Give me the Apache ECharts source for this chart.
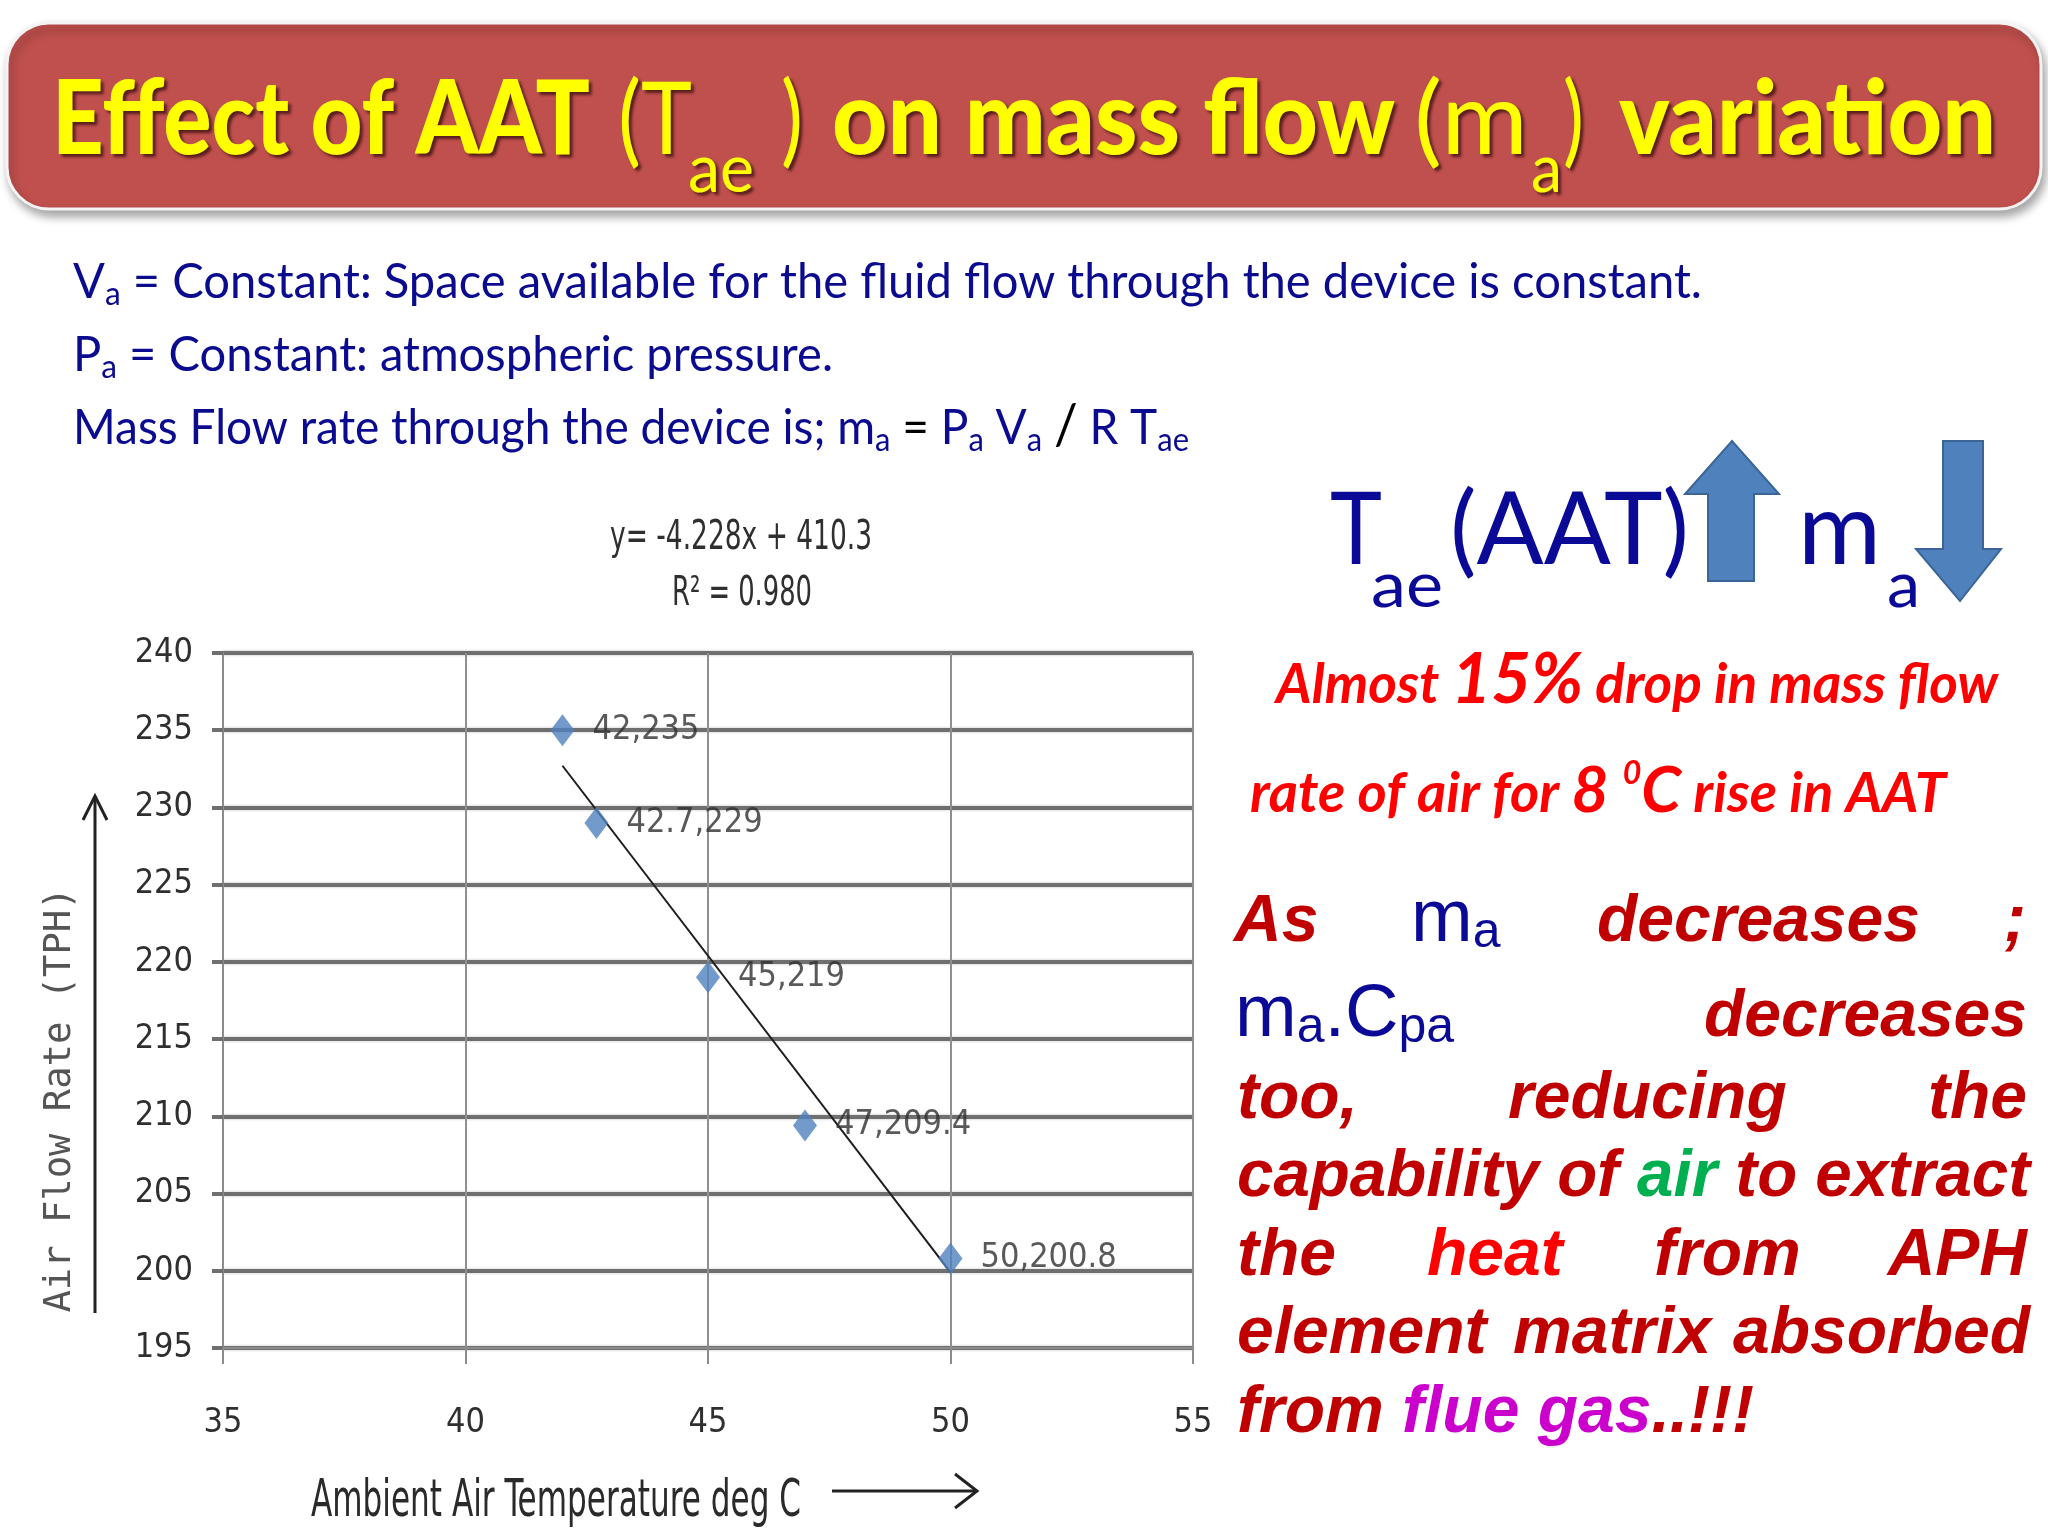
<!DOCTYPE html>
<html><head><meta charset="utf-8">
<script src="https://cdn.jsdelivr.net/npm/echarts@6/dist/echarts.min.js"></script>
<style>html,body{margin:0;padding:0;background:#fff;}#c{width:2048px;height:1536px;}</style>
</head><body><div id="c"></div>
<script>
// ---------- data ----------
const tempValues = [42, 42.7, 45, 47, 50];            // Ambient Air Temperature deg C
const flowValues = [235, 229, 219, 209.4, 200.8];      // Air Flow Rate (TPH)
const trendX = [42, 50];                               // linear trendline ends
const trendY = [232.7, 199.9];
const xTicks = [35, 40, 45, 50, 55];
const yTicks = [195, 200, 205, 210, 215, 220, 225, 230, 235, 240];
const equationText = 'y= -4.228x + 410.3';
const r2Text = 'R\u00B2 = 0.980';
const xTitle = 'Ambient Air Temperature deg C';
const yTitle = 'Air Flow Rate (TPH)';

// ---------- helpers ----------
const cv = document.createElement('canvas').getContext('2d');
function fontStr(o){ return (o.style||'normal')+' '+(o.weight||'normal')+' '+o.size+'px '+o.family; }
function meas(o, text){
  cv.font = fontStr(o);
  cv.textBaseline = 'alphabetic';
  const A = cv.measureText('H').actualBoundingBoxAscent;
  cv.textBaseline = 'middle';
  const B = cv.measureText('H').actualBoundingBoxAscent;
  cv.textBaseline = 'alphabetic';
  return {w: cv.measureText(text).width, off: A - B};
}
function hasFont(f){
  cv.font = '40px monospace'; const a = cv.measureText('240 ABCabc wm').width;
  cv.font = '40px "'+f+'", monospace'; const b = cv.measureText('240 ABCabc wm').width;
  return Math.abs(a-b) > 0.5;
}
const G = [];
function mkText(text, x, y, o, sx){
  const st = {text: text, fontSize: o.size, fontFamily: o.family, fontWeight: o.weight||'normal',
    fontStyle: o.style||'normal', fill: o.color, align: o.align||'left', verticalAlign: 'middle'};
  if (o.shadow) Object.assign(st, o.shadow);
  return {type:'text', x: x, y: y, scaleX: sx||1, rotation: o.rotation||0, style: st, z: 20};
}
function txt(text, x, baseline, o){
  const m = meas(o, text);
  const sx = o.width ? o.width / m.w : 1;
  G.push(mkText(text, x, baseline - m.off, o, sx));
  return m.w * sx;
}
function runs(x, baseline, width, parts){
  const ms = parts.map(p => meas(p.o, p.t));
  const total = ms.reduce((s,m)=>s+m.w, 0);
  const sx = width ? width/total : 1;
  let cx = x;
  parts.forEach((p,i)=>{
    G.push(mkText(p.t, cx, baseline + (p.dy||0) - ms[i].off, p.o, sx));
    cx += ms[i].w * sx;
  });
}

const NARROW = hasFont('Liberation Sans Narrow');
const CF = NARROW ? '"Liberation Sans Narrow"' : (hasFont('DejaVu Sans Condensed') ? '"DejaVu Sans Condensed"' : 'Lato');
const CFS = NARROW ? 38 : 34;
const LATO = 'Lato';
const ARIAL = '"Liberation Sans"';

// ---------- banner ----------
G.push({type:'rect', shape:{x:7, y:23, width:2034, height:186, r:42},
  style:{fill:'#C0504D', stroke:'#f4f4f4', lineWidth:3, shadowBlur:10, shadowOffsetX:3, shadowOffsetY:6, shadowColor:'rgba(0,0,0,0.35)'}, z:1});
const tShadow = {textShadowColor:'rgba(70,20,20,0.85)', textShadowBlur:3, textShadowOffsetX:3, textShadowOffsetY:3};
const TY = '#FFFF00';
const tb = {size:102, family:LATO, weight:'900', color:TY, shadow:tShadow};
const tr = {size:100, family:LATO, weight:'normal', color:TY, shadow:tShadow};
const ts = {size:68, family:LATO, weight:'normal', color:TY, shadow:tShadow};
txt('Effect of AAT', 52, 154, Object.assign({width:538}, tb));
txt('(T', 618, 154, Object.assign({width:74}, tr));
txt('ae', 688, 192, Object.assign({width:66}, ts));
txt(')', 781, 154, Object.assign({width:22}, tr));
txt('on mass flow', 832, 154, Object.assign({width:563}, tb));
txt('(m', 1414, 154, Object.assign({width:114}, tr));
txt('a', 1531, 192, Object.assign({width:31}, ts));
txt(')', 1563, 154, Object.assign({width:21}, tr));
txt('variation', 1619, 154, Object.assign({width:377}, tb));

// ---------- top definitions ----------
const NB = '#0B0B8F';
const dn = {size:49, family:LATO, color:NB};
const ds = {size:33, family:LATO, color:NB};
const dk = {size:49, family:LATO, color:'#000'};
runs(73, 298, 1629, [{t:'V', o:dn},{t:'a', o:ds, dy:7},{t:' = Constant: Space available for the fluid flow through the device is constant.', o:dn}]);
runs(73, 371, 760, [{t:'P', o:dn},{t:'a', o:ds, dy:7},{t:' = Constant: atmospheric pressure.', o:dn}]);
runs(73, 444, 1116, [{t:'Mass Flow rate through the device is; m', o:dn},{t:'a', o:ds, dy:7},{t:' ', o:dn},{t:'=', o:dk},
  {t:' P', o:dn},{t:'a', o:ds, dy:7},{t:' V', o:dn},{t:'a', o:ds, dy:7},{t:' ', o:dn},{t:'/', o:{size:56, family:LATO, color:'#000'}},
  {t:' R T', o:dn},{t:'ae', o:ds, dy:7}]);

// ---------- big Tae / ma with arrows ----------
const BB = '#0A0A96';
const bg = {size:100, family:LATO, color:BB};
const bsub = {size:62, family:LATO, color:BB};
txt('T', 1330, 564, Object.assign({width:52}, bg));
txt('ae', 1371, 607, Object.assign({width:72}, bsub));
txt('(AAT)', 1450, 564, Object.assign({width:239}, bg));
txt('m', 1798, 564, Object.assign({width:83}, bg));
txt('a', 1887, 607, Object.assign({width:33}, bsub));
const arrowStyle = {fill:'#4F81BD', stroke:'#3A6596', lineWidth:2};
G.push({type:'polygon', shape:{points:[[1708,581],[1754,581],[1754,494],[1779,494],[1732,441],[1685,494],[1708,494]]}, style:arrowStyle, z:10});
G.push({type:'polygon', shape:{points:[[1943,441],[1983,441],[1983,549],[2001,549],[1960,601],[1916,549],[1943,549]]}, style:arrowStyle, z:10});

// ---------- red statement ----------
const RB = '#FF0000';
const rn = {size:56, family:LATO, weight:'bold', style:'italic', color:RB};
const rbig = {size:70, family:LATO, weight:'bold', style:'italic', color:RB};
const rmid = {size:64, family:LATO, weight:'bold', style:'italic', color:RB};
const rsup = {size:32, family:LATO, weight:'bold', style:'italic', color:RB};
runs(1276, 703, 722, [{t:'Almost ', o:rn},{t:'15%', o:rbig},{t:' drop in mass flow', o:rn}]);
runs(1250, 812, 696, [{t:'rate of air for ', o:rn},{t:'8 ', o:rmid},{t:'0', o:rsup, dy:-28},{t:'C', o:rmid},{t:' rise in AAT', o:rn}]);

// ---------- paragraph ----------
const DR = '#C00000';
const pr = {size:66, family:ARIAL, weight:'bold', style:'italic', color:DR};
const prR = Object.assign({}, pr, {align:'right'});
const pb = {size:74, family:ARIAL, color:BB};
const pbs = {size:50, family:ARIAL, color:BB};
txt('As', 1234, 941, pr);
runs(1411, 941, 0, [{t:'m', o:pb},{t:'a', o:pbs, dy:6}]);
txt('decreases', 1597, 941, pr);
txt(';', 2026, 941, prR);
runs(1235, 1036, 0, [{t:'m', o:pb},{t:'a', o:pbs, dy:6},{t:'.', o:pb},{t:'C', o:pb},{t:'pa', o:pbs, dy:6}]);
txt('decreases', 2027, 1036, prR);
txt('too,', 1237, 1118, pr);
txt('reducing', 1508, 1118, pr);
txt('the', 2027, 1118, prR);
runs(1237, 1196, 793, [{t:'capability of ', o:pr},{t:'air', o:Object.assign({}, pr, {color:'#00B050'})},{t:' to extract', o:pr}]);
txt('the', 1237, 1275, pr);
txt('heat', 1427, 1275, Object.assign({}, pr, {color:'#FF0000'}));
txt('from', 1654, 1275, pr);
txt('APH', 2027, 1275, prR);
txt('element', 1237, 1353, pr);
txt('matrix', 1513, 1353, pr);
txt('absorbed', 2030, 1353, prR);
runs(1237, 1432, 0, [{t:'from ', o:pr},{t:'flue gas', o:Object.assign({}, pr, {color:'#CC00CC'})},{t:'..!!!', o:pr}]);

// ---------- chart annotations ----------
const CT = '#2f2f2f';
const ceq = {size:40, family:CF, color:CT, align:'center'};
txt(equationText, 741, 549, Object.assign({width:262}, ceq));
txt(r2Text, 742, 605, Object.assign({width:140}, ceq));
txt(xTitle, 311, 1516, {size:52, family:CF, color:'#2a2a2a', width:490});
G.push({type:'polyline', shape:{points:[[832,1491],[977,1491]]}, style:{stroke:'#222', lineWidth:3, fill:null}, z:10});
G.push({type:'polyline', shape:{points:[[955,1474],[977,1491],[955,1508]]}, style:{stroke:'#222', lineWidth:3, fill:null}, z:10});
(function(){
  const o = {size:38, family:'"DejaVu Sans Mono"', color:'#555555', align:'center', rotation:Math.PI/2};
  const m = meas(o, yTitle);
  const sx = 425 / m.w;
  G.push(mkText(yTitle, 60, 1100, o, sx));
})();
G.push({type:'polyline', shape:{points:[[95,1313],[95,796]]}, style:{stroke:'#222', lineWidth:3, fill:null}, z:10});
G.push({type:'polyline', shape:{points:[[83,820],[95,796],[107,820]]}, style:{stroke:'#222', lineWidth:3, fill:null}, z:10});

// ---------- chart ----------
const chart = echarts.init(document.getElementById('c'), null, {renderer:'canvas'});
const labelStyle = {fontSize: CFS, fontFamily: CF, color: CT};
chart.setOption({
  animation: false,
  backgroundColor: '#ffffff',
  grid: {left:223, right:2048-1193, top:653, bottom:1536-1348, containLabel:false},
  xAxis: {
    type:'value', min:xTicks[0], max:xTicks[xTicks.length-1], interval:xTicks[1]-xTicks[0],
    axisLine:{show:true, onZero:false, lineStyle:{color:'#8c8c8c', width:2}},
    axisTick:{show:true, length:16, lineStyle:{color:'#8c8c8c', width:2}},
    axisLabel:Object.assign({margin:58}, labelStyle),
    splitLine:{show:true, lineStyle:{color:'#8f8f8f', width:2}}
  },
  yAxis: {
    type:'value', min:yTicks[0], max:yTicks[yTicks.length-1], interval:yTicks[1]-yTicks[0],
    axisLine:{show:true, onZero:false, lineStyle:{color:'#8c8c8c', width:2}},
    axisTick:{show:true, length:11, lineStyle:{color:'#6f6f6f', width:4}},
    axisLabel:Object.assign({margin:30}, labelStyle),
    splitLine:{show:true, lineStyle:{color:'#6f6f6f', width:4, shadowBlur:3, shadowColor:'rgba(0,0,0,0.25)'}}
  },
  series: [
    {type:'line', data: trendX.map((x,i)=>[x, trendY[i]]), showSymbol:false, symbol:'none',
     lineStyle:{color:'#1e1e1e', width:2}, z:3, silent:true},
    {type:'scatter', data: tempValues.map((x,i)=>[x, flowValues[i]]), symbol:'diamond', symbolSize:[24,32],
     itemStyle:{color:'#4F81BD'}, z:4,
     label:Object.assign({show:true, position:'right', distance:18,
       formatter: p => p.value[0] + ',' + p.value[1]}, labelStyle)}
  ],
  graphic: {elements: G}
});
</script></body></html>
